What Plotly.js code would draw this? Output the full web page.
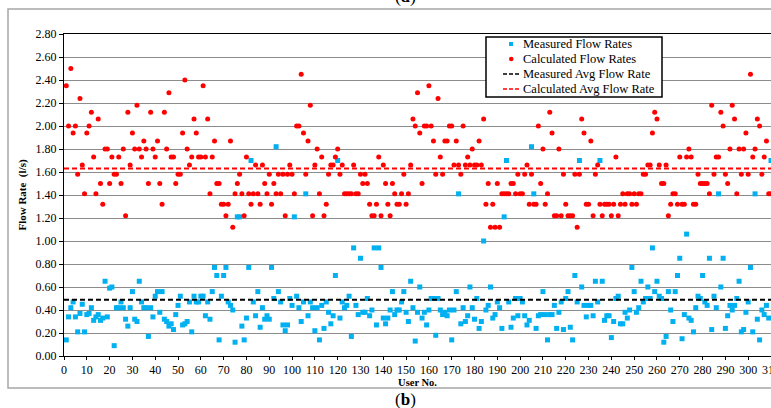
<!DOCTYPE html>
<html>
<head>
<meta charset="utf-8">
<script src="https://cdn.plot.ly/plotly-3.0.1.min.js"></script>
<style>
html,body{margin:0;padding:0;overflow:hidden;background:#fff;}
#chart{width:790px;height:408px;}
</style>
</head>
<body>
<div id="chart"></div>
<script>
// Calculated flow rates (l/s), users 1..310
const calculated = [
2.35,2.00,2.50,1.94,2.00,1.58,2.24,1.66,1.41,1.94,
2.00,2.12,1.73,1.41,2.06,1.50,1.32,1.80,1.80,1.50,
1.73,1.58,1.58,1.73,1.50,1.80,1.22,2.12,1.66,1.94,
1.80,2.18,1.80,1.73,1.87,1.80,1.50,2.12,1.80,1.73,
1.87,1.50,1.32,2.12,1.80,2.29,1.73,1.73,1.50,1.58,
1.58,1.94,2.40,1.80,1.66,1.73,2.06,1.94,1.73,1.73,
2.35,1.73,2.06,1.41,1.73,1.87,1.50,1.50,1.32,1.32,
1.22,1.32,1.87,1.12,1.41,1.50,1.58,1.41,1.22,1.73,
1.41,1.32,1.41,1.66,1.41,1.32,1.66,1.50,1.41,1.58,
1.32,1.50,1.41,1.58,1.41,1.58,1.22,1.58,1.66,1.58,
1.41,2.00,2.00,2.45,1.94,1.58,1.87,2.18,1.22,1.66,
1.80,1.41,1.73,1.22,1.32,1.58,1.66,1.66,1.73,1.80,
1.58,1.66,1.41,1.41,1.41,1.41,1.66,1.41,1.41,1.58,
1.50,1.58,1.50,1.32,1.22,1.22,1.32,1.73,1.22,1.66,
1.50,1.32,1.22,1.50,1.41,1.32,1.32,1.41,1.58,1.32,
1.41,1.66,2.06,2.00,2.29,1.94,1.50,2.00,2.00,2.35,
2.00,1.87,1.58,2.24,1.73,1.58,1.87,1.87,2.00,2.00,
1.66,1.87,1.66,1.58,2.00,1.66,1.73,1.66,1.80,1.66,
1.66,1.87,1.66,2.06,1.32,1.50,1.12,1.32,1.12,1.50,
1.12,1.41,1.41,1.41,1.41,1.50,1.50,1.41,1.58,1.41,
1.41,1.58,1.66,1.32,1.58,1.32,1.32,2.00,1.50,1.80,
1.32,1.41,2.12,1.94,1.22,1.22,1.80,1.22,1.58,1.32,
1.22,1.22,1.22,1.58,1.12,1.58,2.06,1.94,1.32,1.32,
1.87,1.22,1.58,1.66,1.32,1.22,1.32,1.32,1.32,1.22,
1.32,1.73,1.22,1.32,1.41,1.32,1.41,1.41,1.32,1.41,
1.32,1.41,1.41,1.58,1.58,1.66,1.66,1.94,2.12,2.06,
1.66,1.50,1.50,1.66,1.22,1.32,1.41,1.41,1.32,1.73,
1.32,1.32,1.73,1.80,1.73,1.32,1.32,1.58,1.50,1.50,
1.50,1.50,1.41,2.18,1.58,1.73,1.73,2.12,2.00,1.58,
1.50,1.80,2.18,2.06,1.41,1.80,1.58,1.80,1.94,1.58,
2.45,1.73,1.80,2.06,2.00,1.58,1.73,1.87,1.41,1.41
];
// Measured flow rates (l/s), users 1..310
const measured = [
0.14,0.34,0.42,0.47,0.34,0.21,0.37,0.45,0.21,0.36,
0.37,0.42,0.31,0.34,0.36,0.31,0.33,0.65,0.34,0.59,
0.60,0.09,0.42,0.42,0.47,0.42,0.32,0.26,0.42,0.56,
0.32,0.30,0.65,0.47,0.42,0.42,0.17,0.42,0.34,0.52,
0.56,0.38,0.56,0.32,0.30,0.26,0.28,0.23,0.36,0.44,
0.52,0.27,0.28,0.30,0.47,0.21,0.52,0.47,0.47,0.52,
0.52,0.35,0.47,0.32,0.56,0.77,0.70,0.14,0.52,0.70,
0.77,0.47,0.44,0.40,0.12,1.21,1.21,0.26,0.14,0.33,
0.77,1.70,0.47,0.35,0.56,0.25,0.42,0.32,0.35,0.32,
0.77,0.50,1.82,0.56,0.47,0.27,0.22,0.27,0.50,0.44,
1.21,0.52,0.42,0.30,0.47,1.41,0.35,0.47,0.42,0.22,
0.42,0.14,0.44,0.24,0.47,0.38,0.28,0.35,0.70,1.70,
0.33,0.47,0.42,0.44,0.52,0.17,0.94,0.44,0.36,0.85,
0.38,0.38,0.50,0.35,0.40,0.94,0.27,0.94,0.77,0.33,
0.28,0.33,0.40,0.56,0.36,0.40,0.40,0.47,0.56,0.38,
0.30,0.65,0.42,0.13,0.38,0.60,0.33,0.38,0.27,0.40,
0.50,0.50,0.18,0.50,0.40,0.36,0.38,0.35,0.40,0.14,
0.40,0.56,1.41,0.28,0.42,0.30,0.35,0.60,0.42,0.32,
0.50,0.24,0.30,1.00,0.40,0.44,0.60,0.33,0.36,0.47,
0.42,0.24,1.21,1.70,0.47,0.25,0.33,0.50,0.35,0.50,
0.47,0.35,0.27,0.31,1.82,1.41,0.24,0.35,0.36,0.56,
0.36,0.14,0.36,0.36,0.44,0.24,0.38,0.47,0.23,0.50,
0.56,0.25,0.14,0.70,0.47,1.70,0.60,0.44,0.34,0.44,
0.44,0.35,0.65,0.47,1.70,0.65,0.31,0.35,0.35,0.16,
0.30,0.50,0.52,0.28,0.28,0.38,0.33,0.40,0.77,0.56,
0.38,0.42,0.65,0.47,0.50,0.60,0.50,0.94,0.56,0.65,
0.52,0.50,0.12,0.17,0.56,0.40,0.30,0.56,0.70,0.85,
0.15,0.36,1.06,0.33,0.31,0.21,0.42,0.52,0.50,0.70,
0.47,0.44,0.85,0.23,0.52,0.42,1.41,0.60,0.85,0.24,
0.35,0.44,0.40,0.44,0.50,0.65,0.21,0.23,0.38,0.47,
0.77,0.21,1.41,0.32,0.14,0.40,0.36,0.44,0.33,1.70
];
const users = measured.map((v, i) => i + 1);
const measuredAvg = 0.49;
const calculatedAvg = 1.63;
const avgSpan = [0, 310];
const yTicks = [0,0.2,0.4,0.6,0.8,1.0,1.2,1.4,1.6,1.8,2.0,2.2,2.4,2.6,2.8];
const seriesNames = ['Measured Flow Rates', 'Calculated Flow Rates', 'Measured Avg Flow Rate', 'Calculated Avg Flow Rate'];

const serif = 'Liberation Serif, Times New Roman, serif';
const BLUE = '#00B0F0', RED = '#FF0000';

// plot area pixels: left 64, right 771, top 34, bottom 356
const L = 64, R = 771, T = 34, B = 356;
const px = x => (x - L) / (R - L);
const py = y => (B - y) / (B - T);

const traces = [
  {x: users, y: measured, type: 'scatter', mode: 'markers', name: seriesNames[0],
   marker: {symbol: 'square', size: 5, color: BLUE}},
  {x: users, y: calculated, type: 'scatter', mode: 'markers', name: seriesNames[1],
   marker: {symbol: 'circle', size: 5, color: RED}},
  {x: avgSpan, y: [measuredAvg, measuredAvg], type: 'scatter', mode: 'lines', name: seriesNames[2],
   line: {color: '#000000', width: 2, dash: '5px,3px'}},
  {x: avgSpan, y: [calculatedAvg, calculatedAvg], type: 'scatter', mode: 'lines', name: seriesNames[3],
   line: {color: RED, width: 2, dash: '5px,3px'}}
];

// Custom legend (box 486-662 x 37-97 px)
const legRows = [44, 59, 74, 89];
const shapes = [
  {type: 'rect', xref: 'paper', yref: 'paper',
   x0: px(8), x1: px(800), y0: py(388), y1: py(9),
   line: {color: '#a6a6a6', width: 1.5}, fillcolor: 'rgba(0,0,0,0)', layer: 'below'},
  {type: 'rect', xref: 'paper', yref: 'paper',
   x0: px(486), x1: px(662), y0: py(97), y1: py(37),
   line: {color: '#000', width: 1.5}, fillcolor: '#ffffff', layer: 'above'},
  {type: 'rect', xref: 'paper', yref: 'paper',
   x0: px(509), x1: px(513), y0: py(legRows[0] + 2), y1: py(legRows[0] - 2),
   line: {width: 0}, fillcolor: BLUE, layer: 'above'},
  {type: 'circle', xref: 'paper', yref: 'paper',
   x0: px(509), x1: px(513.5), y0: py(legRows[1] + 2.2), y1: py(legRows[1] - 2.2),
   line: {width: 0}, fillcolor: RED, layer: 'above'},
  {type: 'line', xref: 'paper', yref: 'paper',
   x0: px(503), x1: px(520), y0: py(legRows[2]), y1: py(legRows[2]),
   line: {color: '#000', width: 1.5, dash: '4px,2px'}, layer: 'above'},
  {type: 'line', xref: 'paper', yref: 'paper',
   x0: px(503), x1: px(520), y0: py(legRows[3]), y1: py(legRows[3]),
   line: {color: RED, width: 1.5, dash: '4px,2px'}, layer: 'above'}
];

const annotations = seriesNames.map((name, i) => ({
  xref: 'paper', yref: 'paper', x: px(521), y: py(legRows[i]), text: name,
  showarrow: false, xanchor: 'left', yanchor: 'middle',
  font: {family: serif, size: 12.5, color: '#000'}
}));
annotations.push(
  {xref: 'paper', yref: 'paper', x: px(405), y: py(399), text: '(<b>b</b>)',
   showarrow: false, font: {family: serif, size: 17, color: '#000'}, xanchor: 'center', yanchor: 'middle'},
  {xref: 'paper', yref: 'paper', x: px(405), y: py(-4), text: '(<b>a</b>)',
   showarrow: false, font: {family: serif, size: 18, color: '#000'}, xanchor: 'center', yanchor: 'middle'}
);

const layout = {
  width: 790, height: 408,
  margin: {l: L, r: 790 - R, t: T, b: 408 - B, pad: 0},
  paper_bgcolor: '#ffffff', plot_bgcolor: '#ffffff',
  font: {family: serif, color: '#000', size: 12},
  showlegend: false,
  xaxis: {
    range: [0, 310], dtick: 10, tick0: 0, showgrid: false, zeroline: false,
    showline: true, linecolor: '#000', linewidth: 1, mirror: true,
    ticks: 'outside', ticklen: 3, tickcolor: '#000',
    tickfont: {family: serif, size: 12},
    title: {text: '<b>User No.</b>', font: {family: serif, size: 10.5}, standoff: 0}
  },
  yaxis: {
    range: [0, 2.8], tickvals: yTicks, tickformat: '.2f',
    showgrid: true, gridcolor: '#8c8c8c', gridwidth: 1, zeroline: false,
    showline: true, linecolor: '#000', linewidth: 1,
    ticks: 'outside', ticklen: 4, tickcolor: '#000',
    tickfont: {family: serif, size: 12},
    title: {text: '<b>Flow Rate  (l/s)</b>', font: {family: serif, size: 11}, standoff: 6}
  },
  shapes: shapes,
  annotations: annotations
};

Plotly.newPlot('chart', traces, layout, {displayModeBar: false, staticPlot: true});
</script>
</body>
</html>
